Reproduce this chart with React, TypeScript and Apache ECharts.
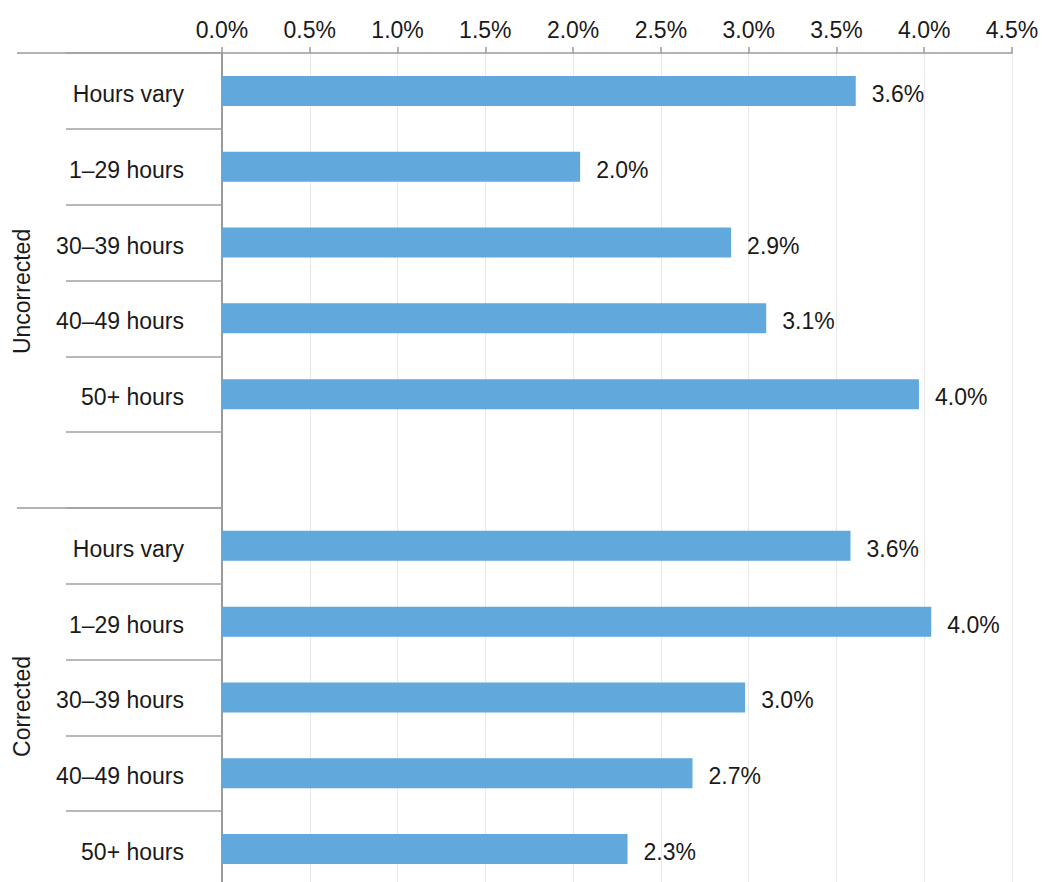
import React, { useEffect, useRef } from "react";
import * as echarts from "echarts";

const rowLabels = ["Hours vary", "1–29 hours", "30–39 hours", "40–49 hours", "50+ hours"];
const groupNames = ["Uncorrected", "Corrected"];
const uncorrectedValues = [3.61, 2.04, 2.9, 3.1, 3.97];
const correctedValues = [3.58, 4.04, 2.98, 2.68, 2.31];
const xMin = 0;
const xMax = 4.5;
const xInterval = 0.5;

const FONT = "Liberation Sans, Arial, sans-serif";
const FS = 23;
const TEXT = "#1a1a1a";

export default function App() {
  const ref = useRef<HTMLDivElement>(null);
  useEffect(() => {
    if (!ref.current) return;
    const chart = echarts.init(ref.current, null, { renderer: "svg" });

    const categories: string[] = [];
    const displayLabels: string[] = [];
    const values: (number | null)[] = [];
    rowLabels.forEach((l, i) => {
      categories.push("U:" + l);
      displayLabels.push(l);
      values.push(uncorrectedValues[i]);
    });
    categories.push("gap");
    displayLabels.push("");
    values.push(null);
    rowLabels.forEach((l, i) => {
      categories.push("C:" + l);
      displayLabels.push(l);
      values.push(correctedValues[i]);
    });

    chart.setOption({
      animation: false,
      grid: { left: 222, right: 30, top: 53, bottom: 0, containLabel: false },
      xAxis: {
        type: "value",
        position: "top",
        min: xMin,
        max: xMax,
        interval: xInterval,
        axisLine: { show: true, lineStyle: { color: "#9a9a9a", width: 1.5 } },
        axisTick: { show: true, length: 6, lineStyle: { color: "#9a9a9a", width: 1.5 } },
        axisLabel: {
          fontFamily: FONT,
          fontSize: FS,
          color: TEXT,
          margin: 12,
          formatter: (v: number) => v.toFixed(1) + "%",
        },
        splitLine: { show: true, lineStyle: { color: "#e8e8e8", width: 1 } },
      },
      yAxis: {
        type: "category",
        inverse: true,
        data: categories,
        axisLine: { show: true, lineStyle: { color: "#9a9a9a", width: 2 } },
        axisTick: {
          show: true,
          interval: 0,
          length: 156,
          lineStyle: { color: "#a0a0a0", width: 1.5 },
        },
        axisLabel: {
          interval: 0,
          fontFamily: FONT,
          fontSize: FS,
          color: TEXT,
          margin: 38,
          formatter: (_v: string, idx: number) =>
            displayLabels[idx] ? "{t|" + displayLabels[idx] + "}" : "",
          rich: {
            t: {
              fontFamily: FONT,
              fontSize: FS,
              color: TEXT,
              padding: [6, 0, 0, 0],
            },
          },
        },
        splitLine: { show: false },
      },
      series: [
        {
          type: "bar",
          data: values,
          barWidth: 30,
          itemStyle: { color: "#61a8dc" },
          label: {
            show: true,
            position: "right",
            distance: 16,
            offset: [0, 3],
            fontFamily: FONT,
            fontSize: FS,
            color: TEXT,
            formatter: (p: any) => (p.value == null ? "" : Number(p.value).toFixed(1) + "%"),
          },
        },
      ],
    });

    const c0 = chart.convertToPixel({ yAxisIndex: 0 }, 0) as number;
    const c1 = chart.convertToPixel({ yAxisIndex: 0 }, 1) as number;
    const rowH = c1 - c0;
    const top = c0 - rowH / 2;
    const sepY = (chart.convertToPixel({ yAxisIndex: 0 }, 6) as number) - rowH / 2;
    const bottom = top + rowH * categories.length;
    const x0 = chart.convertToPixel({ xAxisIndex: 0 }, 0) as number;
    const lineX1 = 17;

    chart.setOption({
      graphic: [
        {
          type: "line",
          shape: { x1: lineX1, y1: top, x2: x0, y2: top },
          style: { stroke: "#9a9a9a", lineWidth: 1.5 },
        },
        {
          type: "line",
          shape: { x1: lineX1, y1: sepY, x2: x0, y2: sepY },
          style: { stroke: "#9a9a9a", lineWidth: 1.5 },
        },
        {
          type: "text",
          x: 22,
          y: (top + sepY) / 2 + 11,
          rotation: Math.PI / 2,
          style: {
            text: groupNames[0],
            fontFamily: FONT,
            fontSize: FS,
            fill: TEXT,
            align: "center",
            verticalAlign: "middle",
          },
        },
        {
          type: "text",
          x: 22,
          y: (sepY + bottom) / 2 + 9,
          rotation: Math.PI / 2,
          style: {
            text: groupNames[1],
            fontFamily: FONT,
            fontSize: FS,
            fill: TEXT,
            align: "center",
            verticalAlign: "middle",
          },
        },
      ],
    });

    return () => chart.dispose();
  }, []);

  return (
    <div style={{ position: "fixed", left: 0, top: 0, width: 1042, height: 882, overflow: "hidden", background: "#fff" }}>
      <div ref={ref} style={{ width: 1042, height: 887 }} />
    </div>
  );
}
